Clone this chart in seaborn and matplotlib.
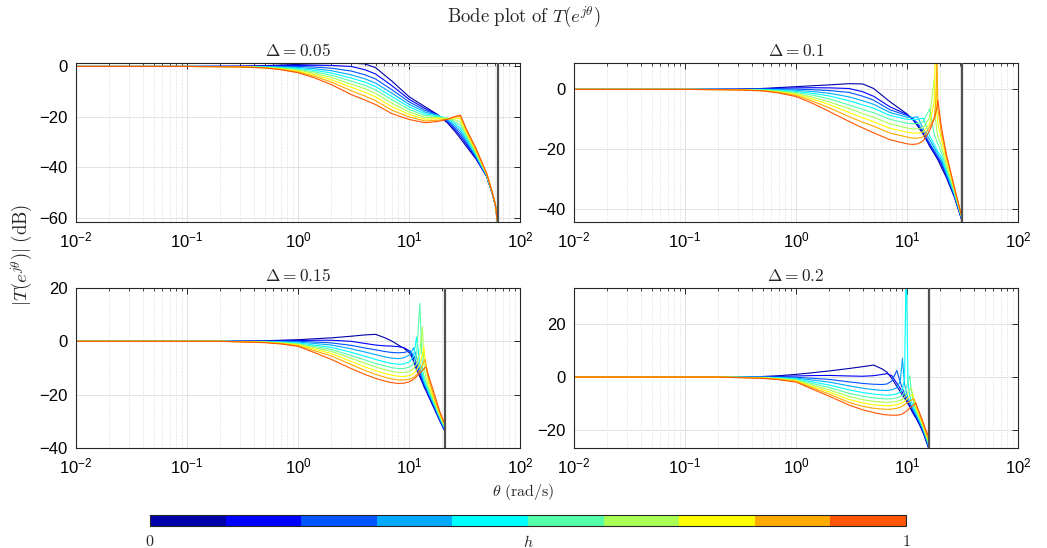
import numpy as np
import pandas as pd
import matplotlib
matplotlib.use("Agg")
import matplotlib.pyplot as plt
import matplotlib.ticker as mticker
from matplotlib.colors import ListedColormap, Normalize
from matplotlib.cm import ScalarMappable
import seaborn as sns

sns.set_style("whitegrid")
plt.rcParams["font.family"] = ["Liberation Sans", "DejaVu Sans"]
plt.rcParams["mathtext.fontset"] = "custom"
plt.rcParams["mathtext.rm"] = "Liberation Sans"
plt.rcParams["mathtext.it"] = "Liberation Sans:italic"
plt.rcParams["axes.unicode_minus"] = True

# MATLAB jet(10), one colour per h value
jet10 = ["#0000aa", "#0000ff", "#0055ff", "#00aaff", "#00ffff",
         "#55ffaa", "#aaff55", "#ffff00", "#ffaa00", "#ff5500"]

deltas = [0.05, 0.1, 0.15, 0.2]
ylims = [(-61.6, 1.35), (-44.3, 8.8), (-40, 20), (-26.6, 33.4)]
yticks = [[-60, -40, -20, 0], [-40, -20, 0], [-40, -20, 0, 20], [-20, 0, 20]]

# magnitude (dB), rows = h index 0..9
theta1 = [0.01, 0.1, 0.3, 0.5, 0.7, 1, 1.4, 2, 3, 4, 5, 7, 10, 14, 18, 22, 26, 29, 33, 40, 50, 56, 60, 62.6]
mag1 = [
    [0, 0, 0.1, 0.3, 0.55, 0.8, 1.05, 1.2, 1.3, 1.0, -0.5, -5.8, -12, -16, -19, -22.2, -25.8, -28.5, -31.8, -36.6, -43.6, -50.2, -55.2, -61.5],
    [0, 0, 0.05, 0.2, 0.3, 0.4, 0.45, 0.4, 0.0, -1.3, -3.0, -7.6, -13, -16.7, -19.1, -21.8, -25.1, -27.6, -31.0, -36.2, -43.5, -50.1, -55.1, -61.5],
    [0, 0, 0, 0, 0, 0, -0.25, -0.7, -1.8, -3.3, -5.0, -9.2, -14, -17.4, -19.2, -21.4, -24.4, -26.6, -30.2, -35.8, -43.3, -50.0, -55.0, -61.5],
    [0, 0, -0.03, -0.1, -0.2, -0.4, -0.9, -1.7, -3.3, -4.9, -6.6, -10.6, -15, -18.1, -19.3, -21.0, -23.6, -25.6, -29.4, -35.4, -43.2, -49.9, -55.0, -61.5],
    [0, 0, -0.06, -0.2, -0.4, -0.8, -1.5, -2.6, -4.6, -6.2, -8.0, -11.9, -16, -18.8, -19.5, -20.6, -22.8, -24.5, -28.6, -35.0, -43.0, -49.8, -54.9, -61.5],
    [0, 0, -0.1, -0.3, -0.6, -1.2, -2.1, -3.5, -5.8, -7.5, -9.3, -13.2, -17, -19.5, -19.8, -20.5, -22.0, -23.3, -27.8, -34.5, -42.9, -49.8, -54.9, -61.5],
    [0, 0, -0.13, -0.4, -0.8, -1.5, -2.7, -4.4, -7.0, -8.8, -10.7, -14.5, -18, -20.2, -20.2, -20.6, -21.2, -22.0, -27.0, -34.0, -42.7, -49.7, -54.8, -61.5],
    [0, 0, -0.16, -0.5, -1.0, -1.9, -3.3, -5.3, -8.2, -10.2, -12.1, -15.9, -19, -20.9, -20.7, -20.8, -20.4, -20.8, -26.3, -33.5, -42.6, -49.6, -54.8, -61.5],
    [0, 0, -0.18, -0.55, -1.15, -2.2, -3.9, -6.2, -9.6, -11.7, -13.6, -17.3, -20, -21.6, -21.3, -21.0, -20.0, -19.8, -25.5, -32.9, -42.4, -49.6, -54.7, -61.5],
    [0, 0, -0.2, -0.6, -1.3, -2.5, -4.5, -7.2, -11.1, -13.3, -15.1, -18.7, -21, -22.3, -21.8, -21.0, -19.8, -19.3, -25.0, -32.3, -42.3, -49.5, -54.7, -61.5],
]

theta2 = [0.01, 0.1, 0.3, 0.5, 0.7, 1, 1.4, 2, 3, 4, 5, 7, 10, 11.2, 12.5, 14, 16, 17.6, 18.2, 18.6, 19, 20.4, 22.6, 26.7, 31.2]
mag2 = [
    [0, 0, 0.1, 0.3, 0.6, 0.9, 1.2, 1.5, 1.9, 1.8, 0.3, -4.1, -8.2, -10, -12.3, -15, -19, -21.5, -22.4, -23, -23.6, -26, -29.4, -36, -43.8],
    [0, 0, 0.05, 0.2, 0.35, 0.5, 0.55, 0.5, 0.3, -0.8, -2.3, -5.8, -8.4, -9.9, -11.9, -14.6, -18.5, -21, -21.9, -22.5, -23.1, -25, -28.9, -35.6, -43.6],
    [0, 0, 0, 0.1, 0.1, 0.1, -0.1, -0.4, -1.0, -2.3, -3.6, -6.8, -8.7, -9.6, -11.3, -14.1, -18, -20.5, -21.4, -22, -22.6, -24.3, -28.4, -35.3, -43.4],
    [0, 0, 0, 0, -0.1, -0.3, -0.7, -1.3, -2.5, -3.8, -5.0, -7.7, -9.3, -9.4, -9.2, -13.2, -16.8, -19.5, -20.5, -21.1, -21.7, -23.5, -27.8, -35, -43.2],
    [0, 0, -0.05, -0.1, -0.3, -0.7, -1.3, -2.2, -3.8, -5.2, -6.3, -8.7, -10.0, -10.1, -10.0, -9.6, -15.5, -18.5, -19.5, -20.2, -20.8, -22.5, -27.2, -34.7, -43.0],
    [0, 0, -0.07, -0.2, -0.5, -1.0, -1.9, -3.2, -5.2, -6.7, -7.8, -10.0, -11.3, -11.5, -11.4, -10.8, -6.5, -15, -16.5, -17.5, -18.3, -21, -26.2, -34.3, -42.9],
    [0, 0, -0.1, -0.3, -0.7, -1.4, -2.6, -4.2, -6.4, -8.1, -9.3, -11.5, -12.9, -13.2, -13.2, -12.7, -9.5, 3.6, -11, -14, -15.8, -19, -25, -33.9, -42.8],
    [0, 0, -0.13, -0.4, -0.9, -1.7, -3.2, -5.1, -7.7, -9.5, -10.8, -13.0, -14.3, -14.6, -14.6, -14.2, -11.5, -4, 25, -7, -11.5, -16.5, -23.5, -33.4, -42.7],
    [0, 0, -0.16, -0.45, -1.05, -2.0, -3.9, -6.2, -9.1, -11.0, -12.3, -14.6, -15.9, -16.3, -16.3, -15.9, -12.5, -9.5, -4, 12, -6.5, -14.5, -22.3, -33, -42.6],
    [0, 0, -0.2, -0.5, -1.2, -2.4, -4.6, -7.4, -10.7, -12.9, -14.5, -16.8, -18.2, -18.4, -18.2, -17.2, -13.8, -9.8, -7.8, -6, -3.7, -12.6, -21.5, -32.6, -42.6],
]

theta3 = [0.01, 0.2, 0.5, 0.7, 1, 1.4, 2, 3, 4, 5, 6, 7, 8, 9, 10.2, 11, 11.7, 12.5, 13.2, 13.6, 13.9, 14.2, 15, 17, 19, 20.9]
mag3 = [
    [0, 0, 0.2, 0.4, 0.6, 0.95, 1.3, 1.9, 2.4, 2.6, 1.4, 0.1, -1.4, -2.6, -4.5, -7.5, -10.8, -13.3, -15.5, -16.9, -17.8, -18.5, -20.7, -25.6, -30, -33.5],
    [0, 0, 0.1, 0.2, 0.3, 0.4, 0.4, 0.0, -0.8, -1.4, -1.7, -1.8, -2.0, -2.4, -3.7, -6.5, -9.6, -12.5, -14.9, -16.4, -17.3, -18.0, -20.3, -25.2, -29.7, -33.3],
    [0, 0, 0, 0, 0, -0.25, -0.6, -1.5, -2.5, -3.2, -3.8, -4.2, -4.3, -4.2, -3.6, -5.2, -8.3, -11.6, -14.2, -15.8, -16.7, -17.5, -19.8, -24.8, -29.4, -33.0],
    [0, 0, -0.05, -0.12, -0.3, -0.8, -1.4, -2.8, -4.0, -5.0, -5.8, -6.3, -6.5, -6.2, -5.0, -2.4, -6.0, -10.5, -13.4, -15.1, -16.1, -17.0, -19.3, -24.4, -29.1, -32.7],
    [0, 0, -0.1, -0.3, -0.6, -1.4, -2.3, -4.1, -5.6, -6.8, -7.7, -8.3, -8.6, -8.5, -7.6, -5.5, 1.6, -8.5, -12.4, -14.4, -15.5, -16.4, -18.8, -24.0, -28.8, -32.4],
    [0, 0, -0.2, -0.45, -0.9, -1.9, -3.1, -5.3, -7.0, -8.3, -9.2, -9.9, -10.2, -10.2, -9.6, -8.3, -5.0, 14.2, -10.0, -13.0, -14.5, -15.6, -18.2, -23.5, -28.4, -32.1],
    [0, 0, -0.3, -0.6, -1.1, -2.4, -3.8, -6.3, -8.2, -9.6, -10.6, -11.3, -11.7, -11.7, -11.2, -10.2, -8.5, -4.5, 5.4, -8.0, -11.5, -13.5, -17.2, -23.0, -28.0, -31.8],
    [0, 0, -0.35, -0.7, -1.3, -2.9, -4.6, -7.5, -9.6, -11.0, -12.0, -12.7, -13.1, -13.2, -12.8, -12.0, -10.8, -8.5, -4.8, -2.1, -6.0, -9.5, -15.8, -22.3, -27.6, -31.5],
    [0, 0, -0.4, -0.85, -1.6, -3.5, -5.5, -8.7, -10.9, -12.4, -13.4, -14.1, -14.5, -14.5, -14.2, -13.5, -12.5, -11.0, -8.8, -7.6, -6.8, -8.5, -14.2, -21.4, -27.1, -31.1],
    [0, 0, -0.5, -1.0, -1.9, -4.2, -6.8, -10.2, -12.4, -13.9, -14.9, -15.5, -15.8, -15.7, -15.1, -14.2, -13.2, -12.0, -10.9, -10.3, -9.9, -9.7, -12.9, -20.0, -26.5, -30.7],
]

theta4 = [0.01, 0.2, 0.5, 0.7, 1, 1.4, 2, 3, 4, 5, 6, 6.6, 7.3, 8.1, 8.7, 9.1, 9.5, 9.85, 10.2, 10.6, 10.9, 11.3, 11.6, 12, 13, 14, 15, 15.6]
mag4 = [
    [0, 0, 0.2, 0.5, 1.0, 1.6, 2.3, 3.2, 3.9, 4.5, 3.0, 1.8, -0.5, -3.5, -5.5, -6.8, -7.9, -9.0, -10.0, -11.2, -12.3, -13.5, -14.3, -15.3, -18.0, -21.0, -24.5, -26.5],
    [0, 0, 0.1, 0.25, 0.4, 0.55, 0.6, 0.4, 0.3, 0.5, 1.0, 1.3, 0.5, -2.3, -4.3, -5.8, -7.2, -8.3, -9.4, -10.7, -11.7, -12.9, -13.8, -14.8, -17.6, -20.6, -24.2, -26.3],
    [0, 0, 0, 0, -0.1, -0.45, -0.9, -1.8, -2.4, -2.7, -2.8, -2.6, -1.5, 2.5, -2.0, -4.2, -6.2, -7.5, -8.7, -10.1, -11.1, -12.3, -13.2, -14.2, -17.1, -20.2, -23.8, -26.0],
    [0, 0, -0.05, -0.15, -0.4, -1.1, -1.9, -3.3, -4.2, -4.7, -5.0, -5.0, -4.8, -4.0, -1.5, 7.0, -2.5, -5.8, -7.6, -9.3, -10.5, -11.8, -12.7, -13.8, -16.8, -19.8, -23.4, -25.6],
    [0, 0, -0.1, -0.3, -0.7, -1.8, -3.0, -4.8, -5.8, -6.4, -6.7, -6.8, -6.7, -6.3, -5.6, -4.5, -1.0, 45, -2.0, -7.0, -9.0, -10.8, -11.9, -13.2, -16.3, -19.4, -23.0, -25.2],
    [0, 0, -0.2, -0.45, -1.0, -2.4, -3.9, -6.1, -7.2, -7.8, -8.1, -8.2, -8.1, -7.8, -7.3, -6.8, -5.8, -4.0, -2.0, 0.5, -4.5, -8.5, -10.5, -12.5, -15.8, -19.0, -22.6, -24.8],
    [0, 0, -0.25, -0.6, -1.2, -3.0, -4.8, -7.3, -8.5, -9.1, -9.4, -9.5, -9.4, -9.1, -8.7, -8.3, -7.6, -6.8, -6.0, -5.0, -4.0, -7.0, -9.5, -11.8, -15.4, -18.6, -22.3, -24.4],
    [0, 0, -0.3, -0.7, -1.4, -3.5, -5.6, -8.4, -9.7, -10.4, -10.7, -10.8, -10.7, -10.4, -10.0, -9.6, -9.1, -8.5, -7.9, -7.3, -6.9, -6.6, -8.5, -11.2, -15.0, -18.3, -22.1, -23.8],
    [0, 0, -0.4, -0.85, -1.6, -4.0, -6.4, -9.5, -11.0, -11.7, -12.0, -12.1, -12.0, -11.7, -11.3, -10.9, -10.4, -9.9, -9.5, -9.0, -8.7, -8.4, -8.2, -10.0, -14.3, -17.7, -21.5, -23.0],
    [0, 0, -0.5, -1.0, -1.9, -4.5, -7.2, -10.5, -12.3, -13.3, -14.0, -14.2, -14.3, -14.3, -14.1, -13.8, -13.3, -12.8, -12.3, -11.6, -11.2, -10.7, -10.3, -9.8, -13.5, -17.0, -20.5, -22.0],
]

thetas = [theta1, theta2, theta3, theta4]
mags = [mag1, mag2, mag3, mag4]

rows = []
for d, th, mg in zip(deltas, thetas, mags):
    for k, curve in enumerate(mg):
        assert len(curve) == len(th), (d, k)
        for t, v in zip(th, curve):
            rows.append((d, k, t, v))
df = pd.DataFrame(rows, columns=["delta", "h", "theta", "mag"])

fig = plt.figure(figsize=(10.47, 5.48), dpi=100)
positions = [[0.0726, 0.5949, 0.4241, 0.2901], [0.5482, 0.5949, 0.4241, 0.2901],
             [0.0726, 0.1825, 0.4241, 0.2920], [0.5482, 0.1825, 0.4241, 0.2920]]
edge = "#262626"

for i, d in enumerate(deltas):
    ax = fig.add_axes(positions[i])
    sns.lineplot(data=df[df.delta == d], x="theta", y="mag", hue="h",
                 palette=jet10, linewidth=0.8, legend=False, estimator=None, ax=ax)
    ax.axvline(np.pi / d, color="#505050", lw=1.6, zorder=5)
    ax.set_xscale("log")
    ax.set_xlim(1e-2, 1e2)
    ax.set_ylim(*ylims[i])
    ax.set_yticks(yticks[i])
    ax.set_xticks([1e-2, 1e-1, 1e0, 1e1, 1e2])
    ax.xaxis.set_minor_locator(mticker.LogLocator(base=10, subs=np.arange(2, 10)))
    ax.xaxis.set_minor_formatter(mticker.NullFormatter())
    ax.grid(which="major", color="#e2e2e2", lw=0.7, ls="-")
    ax.grid(which="minor", axis="x", color="#d4d4d4", lw=0.6, ls=":")
    ax.set_axisbelow(True)
    ax.tick_params(which="both", direction="in", top=True, right=True,
                   color=edge, labelsize=12, labelcolor="black")
    ax.tick_params(which="major", length=4, width=0.7)
    ax.tick_params(which="minor", length=2.5, width=0.6)
    ax.tick_params(axis="x", which="major", pad=6)
    ax.tick_params(axis="y", which="major", pad=6)
    for s in ax.spines.values():
        s.set_color(edge)
        s.set_linewidth(0.8)
    ax.set_xlabel("")
    ax.set_ylabel("")
    ax.set_title(r"$\Delta = %s$" % d, fontsize=12.5, math_fontfamily="cm", pad=5)

fig.text(0.5, 0.969, r"$\mathrm{Bode\ plot\ of\ }T(e^{j\theta})$", ha="center", va="center",
         fontsize=13.5, math_fontfamily="cm")
fig.text(0.5, 0.102, r"$\theta\ \mathrm{(rad/s)}$", ha="center", va="center",
         fontsize=11.5, math_fontfamily="cm")
fig.text(0.021, 0.535, r"$|T(e^{j\theta})|\ \mathrm{(dB)}$", ha="center", va="center",
         rotation=90, fontsize=13.5, math_fontfamily="cm")

# discrete colour bar for h
cax = fig.add_axes([0.1433, 0.0401, 0.7220, 0.0201])
cb = fig.colorbar(ScalarMappable(norm=Normalize(0, 1), cmap=ListedColormap(jet10)),
                  cax=cax, orientation="horizontal")
cb.set_ticks([0.5])
cb.ax.tick_params(direction="in", length=4, width=0.7, color=edge, labelbottom=False)
cb.outline.set_edgecolor(edge)
cb.outline.set_linewidth(0.8)
for xv, lab in zip([0, 0.5, 1], [r"$0$", r"$h$", r"$1$"]):
    cax.text(xv, -0.7, lab, transform=cax.transAxes, ha="center", va="top",
             fontsize=11.5, math_fontfamily="cm")

fig.savefig("out.png", dpi=100, facecolor="white")
